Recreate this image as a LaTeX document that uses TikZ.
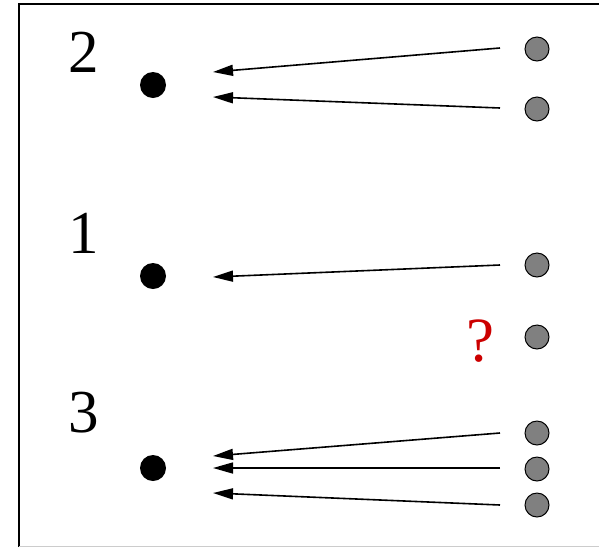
\documentclass[tikz,border=0pt]{standalone}
\usepackage{fontspec}
\setmainfont{Liberation Serif}
\usetikzlibrary{arrows.meta}
\begin{document}
\begin{tikzpicture}[x=1pt,y=-1pt,
  src/.style={circle,fill=black,inner sep=0pt,minimum size=26pt},
  tgt/.style={circle,fill=gray,draw=black,line width=1pt,inner sep=0pt,minimum size=24pt},
  lbl/.style={font=\fontsize{61}{61}\selectfont,inner sep=0pt},
  arr/.style={line width=1.6pt,-{Triangle[length=20pt,width=11pt]}}]
\useasboundingbox (0,0) rectangle (599,547);
\draw[line width=2.4pt] (19,547) -- (19,4) -- (599,4);
\draw[black!20,line width=1pt] (19,546.5) -- (599,546.5);
% labels
\node[lbl] (l2) at (84,52.5) {2};
\node[lbl] (l1) at (84,233) {1};
\node[lbl] (l3) at (84,413) {3};
\node[lbl,text={rgb,255:red,204;green,0;blue,0},font=\fontsize{63}{63}\selectfont] (q) at (480,341) {?};
% black dots
\node[src] (s2) at (153,85) {};
\node[src] (s1) at (153,276) {};
\node[src] (s3) at (153,468) {};
% gray dots
\node[tgt] (t1) at (537,49) {};
\node[tgt] (t2) at (537,109) {};
\node[tgt] (t3) at (537,265) {};
\node[tgt] (t4) at (537,337) {};
\node[tgt] (t5) at (537,433) {};
\node[tgt] (t6) at (537,469) {};
\node[tgt] (t7) at (537,505) {};
% arrow end points
\coordinate (a1) at (500,48);  \coordinate (b1) at (213,72);
\coordinate (a2) at (500,108); \coordinate (b2) at (213,97);
\coordinate (a3) at (500,265); \coordinate (b3) at (213,277);
\coordinate (a4) at (500,433); \coordinate (b4) at (213,456);
\coordinate (a5) at (500,468); \coordinate (b5) at (213,468);
\coordinate (a6) at (500,505); \coordinate (b6) at (213,493);
\foreach \i in {1,...,6} {\draw[arr] (a\i) -- (b\i);}
\end{tikzpicture}
\end{document}
